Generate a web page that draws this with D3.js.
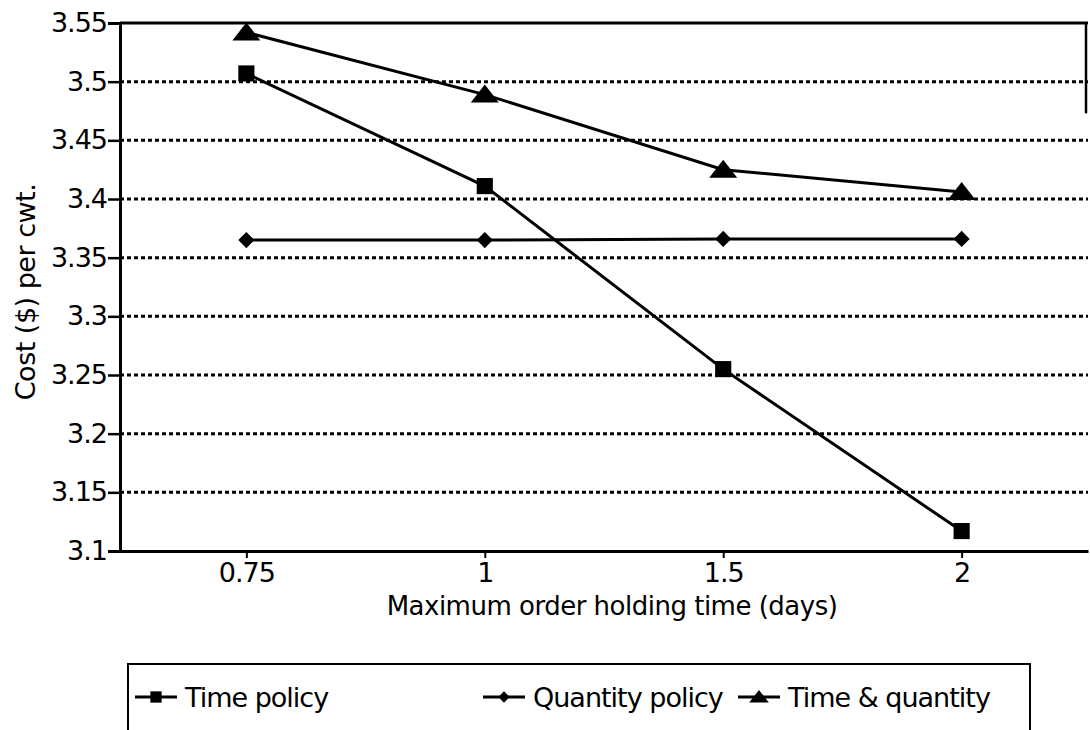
<!DOCTYPE html>
<html>
<head>
<meta charset="utf-8">
<script src="https://cdn.jsdelivr.net/npm/d3@7"></script>
<style>
  body { margin: 0; background: #fff; }
  svg text { font-family: "DejaVu Sans", "Liberation Sans", Arial, sans-serif; fill: #000; }
</style>
</head>
<body>
<div id="chart-container"></div>
<script>
// data
const categories = ["0.75", "1", "1.5", "2"];
const timePolicy = [3.507, 3.411, 3.255, 3.117];
const quantityPolicy = [3.365, 3.365, 3.366, 3.366];
const timeAndQuantity = [3.542, 3.489, 3.425, 3.406];
const yTicks = [3.1, 3.15, 3.2, 3.25, 3.3, 3.35, 3.4, 3.45, 3.5, 3.55];
const seriesNames = ["Time policy", "Quantity policy", "Time & quantity"];

document.addEventListener('DOMContentLoaded', () => {
  const width = 1090;
  const height = 730;
  const margin = { top: 23, right: 2, bottom: 179, left: 120 };
  const plotW = width - margin.left - margin.right;
  const plotH = height - margin.top - margin.bottom;

  const svg = d3.select("#chart-container")
    .append("svg")
    .attr("width", width)
    .attr("height", height);

  const g = svg.append("g")
    .attr("transform", "translate(" + margin.left + "," + margin.top + ")");

  const xScale = d3.scalePoint()
    .domain(categories)
    .range([0, plotW])
    .padding(0.53);

  const yScale = d3.scaleLinear()
    .domain([3.1, 3.55])
    .range([plotH, 0]);

  // dotted gridlines
  g.selectAll("line.grid")
    .data(yTicks.filter(t => t > 3.1 && t < 3.55))
    .enter()
    .append("line")
    .attr("class", "grid")
    .attr("x1", 0)
    .attr("x2", plotW)
    .attr("y1", d => yScale(d))
    .attr("y2", d => yScale(d))
    .attr("stroke", "#000")
    .attr("stroke-width", 3)
    .attr("stroke-dasharray", "4,3");

  // top border and partial right border (as in the scan)
  g.append("line")
    .attr("x1", 0).attr("x2", plotW)
    .attr("y1", 0).attr("y2", 0)
    .attr("stroke", "#000").attr("stroke-width", 3);
  g.append("line")
    .attr("x1", plotW - 2).attr("x2", plotW - 2)
    .attr("y1", 0).attr("y2", yScale(3.473))
    .attr("stroke", "#000").attr("stroke-width", 2.5);

  // y axis
  const yAxis = g.append("g")
    .call(d3.axisLeft(yScale)
      .tickValues(yTicks)
      .tickFormat(d => d3.format("")(+d.toFixed(2)))
      .tickSize(12)
      .tickPadding(1));
  yAxis.select(".domain").attr("stroke-width", 3);
  yAxis.selectAll(".tick line").attr("stroke-width", 2.5);
  yAxis.selectAll(".tick text")
    .style("font-size", "27px")
    .style("letter-spacing", "-1px");

  // x axis
  const xAxis = g.append("g")
    .attr("transform", "translate(0," + plotH + ")")
    .call(d3.axisBottom(xScale).tickSize(7).tickSizeOuter(0).tickPadding(5));
  xAxis.select(".domain").attr("stroke-width", 3);
  xAxis.selectAll(".tick line").attr("stroke-width", 2);
  xAxis.selectAll(".tick text")
    .style("font-size", "27px")
    .style("letter-spacing", "-1px");

  // axis titles
  g.append("text")
    .attr("transform", "translate(" + (612 - margin.left) + "," + (plotH + 64) + ")")
    .style("text-anchor", "middle")
    .style("font-size", "26px")
    .style("letter-spacing", "-0.5px")
    .text("Maximum order holding time (days)");

  g.append("text")
    .attr("transform", "rotate(-90)")
    .attr("x", -(292 - margin.top))
    .attr("y", 35 - margin.left)
    .style("text-anchor", "middle")
    .style("font-size", "27px")
    .style("letter-spacing", "-0.5px")
    .text("Cost ($) per cwt.");

  // markers
  const squarePath = d3.symbol().type(d3.symbolSquare).size(260)();
  const diamondPath = d3.symbol().type(d3.symbolSquare).size(130)();
  const trianglePath = "M0,-10L14,8L-14,8Z";

  const series = [
    { name: seriesNames[0], values: timePolicy, path: squarePath, rotate: 0 },
    { name: seriesNames[1], values: quantityPolicy, path: diamondPath, rotate: 45 },
    { name: seriesNames[2], values: timeAndQuantity, path: trianglePath, rotate: 0 }
  ];

  const line = d3.line()
    .x((d, i) => xScale(categories[i]))
    .y(d => yScale(d));

  series.forEach(s => {
    g.append("path")
      .datum(s.values)
      .attr("d", line)
      .attr("fill", "none")
      .attr("stroke", "#000")
      .attr("stroke-width", 3);

    g.selectAll(null)
      .data(s.values)
      .enter()
      .append("path")
      .attr("d", s.path)
      .attr("transform", (d, i) => "translate(" + xScale(categories[i]) + "," + yScale(d) + ") rotate(" + s.rotate + ")")
      .attr("fill", "#000");
  });

  // legend
  const legend = svg.append("g").attr("transform", "translate(128,664)");
  legend.append("rect")
    .attr("x", 0).attr("y", 0)
    .attr("width", 902).attr("height", 90)
    .attr("fill", "none")
    .attr("stroke", "#000")
    .attr("stroke-width", 2);

  const legendX = [7, 355, 610];
  series.forEach((s, i) => {
    const item = legend.append("g").attr("transform", "translate(" + legendX[i] + ",33)");
    item.append("line")
      .attr("x1", 0).attr("x2", 42)
      .attr("y1", 0).attr("y2", 0)
      .attr("stroke", "#000").attr("stroke-width", 3);
    item.append("path")
      .attr("d", s.path)
      .attr("transform", "translate(21,0) rotate(" + s.rotate + ") scale(0.7)")
      .attr("fill", "#000");
    item.append("text")
      .attr("x", 50)
      .attr("y", 0)
      .attr("dy", "0.36em")
      .style("font-size", "27px")
      .style("letter-spacing", "-1px")
      .text(s.name);
  });
});
</script>
</body>
</html>
